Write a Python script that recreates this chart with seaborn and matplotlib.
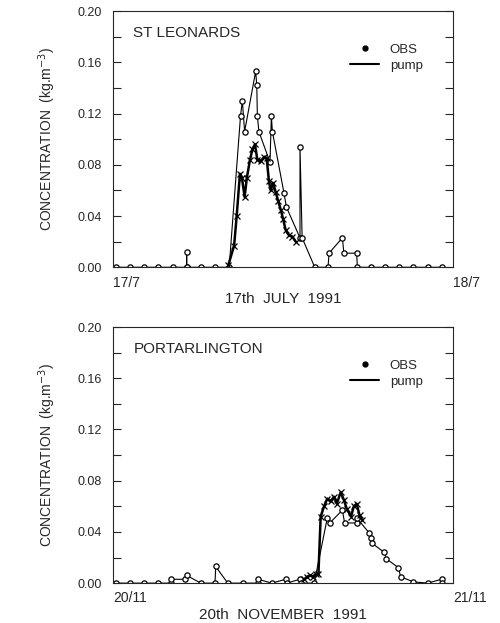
import numpy as np
import pandas as pd
import seaborn as sns
import matplotlib.pyplot as plt
from matplotlib.lines import Line2D

# hours after midnight, concentration kg/m3
stl_circ_t = [0.2, 1.2, 2.2, 3.2, 4.2, 5.2, 5.2, 5.2, 6.2, 7.2, 8.2,
              9.0, 9.13, 9.29, 10.07, 10.15, 10.19, 10.3, 11.08, 11.18, 11.25,
              12.07, 12.24, 13.2, 13.2, 13.35, 14.24, 15.18, 15.25, 16.19, 16.3,
              17.2, 17.25, 18.2, 19.2, 20.2, 21.2, 22.2, 23.2]
stl_circ_v = [0, 0, 0, 0, 0, 0, 0.012, 0, 0, 0, 0,
              0.118, 0.130, 0.106, 0.153, 0.142, 0.118, 0.106, 0.082, 0.118, 0.106,
              0.058, 0.047, 0.023, 0.094, 0.023, 0, 0, 0.011, 0.023, 0.011,
              0.011, 0, 0, 0, 0, 0, 0, 0]

stl_x_t = [8.15, 8.55, 8.73, 8.96, 9.1, 9.29, 9.45, 9.67, 9.84, 10.02, 10.19,
           10.42, 10.66, 10.85, 11.01, 11.13, 11.29, 11.48, 11.65, 11.84, 12.0,
           12.19, 12.42, 12.66, 12.9]
stl_x_v = [0.002, 0.017, 0.040, 0.073, 0.070, 0.055, 0.070, 0.084, 0.092, 0.096, 0.084,
           0.083, 0.086, 0.085, 0.067, 0.060, 0.066, 0.059, 0.052, 0.045, 0.038,
           0.029, 0.025, 0.024, 0.020]

por_circ_t = [0.2, 1.2, 2.2, 3.2, 4.1, 4.1, 5.1, 5.2, 6.2, 7.2, 7.25, 8.1,
              9.2, 10.2, 10.25, 11.2, 12.2, 12.25, 13.2, 13.25, 14.2,
              15.13, 15.3, 16.19, 16.35, 17.2, 17.2, 18.1, 18.2, 18.3,
              19.15, 19.3, 20.15, 20.3, 21.2, 22.2, 23.2, 23.25]
por_circ_v = [0, 0, 0, 0, 0, 0.003, 0.003, 0.006, 0, 0, 0.013, 0,
              0, 0, 0.003, 0, 0.003, 0, 0.003, 0, 0,
              0.051, 0.047, 0.057, 0.047, 0.047, 0.051, 0.039, 0.035, 0.031,
              0.024, 0.019, 0.012, 0.005, 0.001, 0, 0.003, 0]

por_x_t = [13.5, 13.7, 13.9, 14.1, 14.3, 14.5, 14.66, 14.9, 15.13, 15.36, 15.6,
           15.8, 16.07, 16.3, 16.5, 16.8, 17.0, 17.2, 17.4, 17.6]
por_x_v = [0.003, 0.005, 0.006, 0.005, 0.007, 0.007, 0.052, 0.060, 0.066, 0.064, 0.0675,
           0.062, 0.071, 0.065, 0.058, 0.052, 0.060, 0.062, 0.053, 0.049]

panels = [
    ("ST LEONARDS", "17th  JULY  1991", "17/7", "18/7",
     stl_circ_t, stl_circ_v, stl_x_t, stl_x_v),
    ("PORTARLINGTON", "20th  NOVEMBER  1991", "20/11", "21/11",
     por_circ_t, por_circ_v, por_x_t, por_x_v),
]

sns.set_style("ticks")
plt.rcParams['font.family'] = ['Liberation Sans', 'DejaVu Sans']

fig = plt.figure(figsize=(5, 6.23), dpi=100)
boxes = [[0.226, 0.571, 0.68, 0.411], [0.226, 0.064, 0.68, 0.411]]

for box, (site, date, start, end, ct, cv, xt, xv) in zip(boxes, panels):
    ax = fig.add_axes(box)
    circ = pd.DataFrame({"t": ct, "c": cv})
    cross = pd.DataFrame({"t": xt, "c": xv})
    sns.lineplot(data=circ, x="t", y="c", sort=False, estimator=None, ax=ax,
                 color="black", lw=0.8, marker="o", markersize=3.8,
                 markerfacecolor="white", markeredgecolor="black", markeredgewidth=0.9)
    sns.lineplot(data=cross, x="t", y="c", sort=False, estimator=None, ax=ax,
                 color="black", lw=1.8, marker="x", markersize=5,
                 markeredgecolor="black", markeredgewidth=0.9)
    ax.set_xlim(0, 24)
    ax.set_ylim(0, 0.2)
    ax.set_yticks(np.arange(0, 0.201, 0.04))
    ax.set_yticks(np.arange(0.02, 0.2, 0.04), minor=True)
    ax.set_yticklabels(["%.2f" % v for v in np.arange(0, 0.201, 0.04)])
    ax.tick_params(axis="y", which="both", direction="in", right=True,
                   length=6, width=0.8, labelsize=9, pad=8)
    ax.set_xticks([0, 24])
    ax.set_xticklabels([start, end], ha="left")
    ax.tick_params(axis="x", length=0, labelsize=10, pad=6)
    for s in ax.spines.values():
        s.set_linewidth(0.8)
    ax.set_xlabel(date, fontsize=11, labelpad=2)
    ax.set_ylabel("CONCENTRATION  (kg.m$^{-3}$)", fontsize=10, labelpad=14)
    ax.text(0.06, 0.9, site, transform=ax.transAxes, fontsize=11)
    handles = [Line2D([], [], color="black", marker=".", ls="none", markersize=7),
               Line2D([], [], color="black", lw=1.5)]
    ax.legend(handles, ["OBS", "pump"], loc="upper right", bbox_to_anchor=(0.93, 0.9),
              frameon=False, fontsize=9.5, handlelength=2.2, borderpad=0,
              labelspacing=0.3)

fig.savefig("out.png", dpi=100)
